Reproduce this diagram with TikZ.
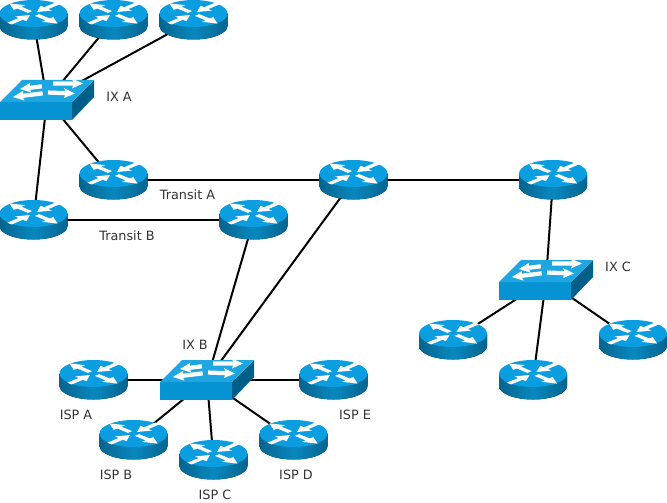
\documentclass[tikz,border=0pt]{standalone}
\usepackage{fontspec}
\setmainfont{DejaVu Sans}
\definecolor{topc}{HTML}{0A9EE0}
\definecolor{frontc}{HTML}{0693D3}
\definecolor{sidec}{HTML}{005F88}
\definecolor{bodya}{HTML}{06648F}
\definecolor{bodyb}{HTML}{0888BE}
\tikzset{
  x=1pt,y=-1pt,
  anchorpt/.style={inner sep=0pt,minimum size=0pt,outer sep=0pt},
  link/.style={draw=black,line width=2pt},
  lbl/.style={font=\fontsize{12.8}{14}\selectfont,text=black!80,inner sep=0pt,anchor=base},
}
\newcommand{\rtarrow}[1]{%
  \begin{scope}[rotate=#1]
    \fill[white] (5,-3) -- (20,-3) -- (20,-8) -- (34,0) -- (20,8) -- (20,3) -- (5,3) -- cycle;
  \end{scope}}
\newcommand{\rtarrowin}[1]{%
  \begin{scope}[rotate=#1]
    \fill[white] (34,-3) -- (18,-3) -- (18,-8) -- (5,0) -- (18,8) -- (18,3) -- (34,3) -- cycle;
  \end{scope}}
\newcommand{\routericon}[1]{%
  \begin{scope}[shift={(#1)},yshift=6.5pt]
    \fill[left color=bodya,right color=bodya,middle color=bodyb] (-34,0) -- (-34,12.5) arc[x radius=34,y radius=13.5,start angle=180,end angle=0] -- (34,0) -- cycle;
    \fill[topc] (0,0) ellipse[x radius=34,y radius=13.5];
    \begin{scope}[yscale=.42]
      \rtarrowin{45}\rtarrowin{225}\rtarrow{135}\rtarrow{315}
    \end{scope}
  \end{scope}}
\newcommand{\swarr}[4]{% tip x, tip y, angle, length
  \begin{scope}[shift={(#1,#2)},rotate=#3]
    \fill[white] (0,0) -- (-11,-5) -- (-10,-2.1) -- (-#4,-2.1) -- (-#4,2.1) -- (-10,2.1) -- (-11,5) -- cycle;
  \end{scope}}
\newcommand{\switchicon}[1]{%
  \begin{scope}[shift={(#1)}]
    \fill[frontc] (-47,2) rectangle (25,20);
    \fill[sidec] (25,2) -- (47,-20) -- (47,-3) -- (25,20) -- cycle;
    \fill[topc!92!white] (-47,2) -- (-25,-20) -- (47,-20) -- (25,2) -- cycle;
    \swarr{-27}{-11}{187}{22}
    \swarr{36}{-16.5}{0}{30}
    \swarr{-34}{-3}{187}{30}
    \swarr{28}{-6.5}{-2}{27}
  \end{scope}}
\begin{document}
\begin{tikzpicture}
\useasboundingbox (0,0) rectangle (667,503);
\node[anchorpt] (t1) at (33.5,20) {};
\node[anchorpt] (t2) at (113.5,20) {};
\node[anchorpt] (t3) at (193.5,20) {};
\node[anchorpt] (ixa) at (47,100) {};
\node[anchorpt] (tra) at (113.5,180) {};
\node[anchorpt] (trb) at (33.5,220) {};
\node[anchorpt] (trb2) at (253.5,220) {};
\node[anchorpt] (mid) at (353.5,180) {};
\node[anchorpt] (rgt) at (553,180) {};
\node[anchorpt] (ixc) at (546,280) {};
\node[anchorpt] (c1) at (453,340) {};
\node[anchorpt] (c2) at (533,380) {};
\node[anchorpt] (c3) at (633,340) {};
\node[anchorpt] (ixb) at (207,380) {};
\node[anchorpt] (ia) at (93.5,380) {};
\node[anchorpt] (ib) at (133.5,440) {};
\node[anchorpt] (ic) at (213.5,460) {};
\node[anchorpt] (id) at (293.5,440) {};
\node[anchorpt] (ie) at (333.5,380) {};
\foreach \a/\b in {t1/ixa,t2/ixa,t3/ixa,ixa/tra,ixa/trb,tra/mid,mid/rgt,trb/trb2,trb2/ixb,mid/ixb,rgt/ixc,ixc/c1,ixc/c2,ixc/c3,ixb/ia,ixb/ib,ixb/ic,ixb/id,ixb/ie}{
  \draw[link] (\a) -- (\b);
}
\foreach \n in {t1,t2,t3,tra,trb,trb2,mid,rgt,c1,c2,c3,ia,ib,ic,id,ie}{\routericon{\n}}
\foreach \n in {ixa,ixb,ixc}{\switchicon{\n}}
\node[lbl] (lixa) at (119,102) {IX A};
\node[lbl] (ltra) at (187.5,199) {Transit A};
\node[lbl] (ltrb) at (127,240) {Transit B};
\node[lbl] (lixb) at (195,349) {IX B};
\node[lbl] (lixc) at (618,271) {IX C};
\node[lbl] (lia) at (76,419) {ISP A};
\node[lbl] (lib) at (116,479) {ISP B};
\node[lbl] (lic) at (215,499) {ISP C};
\node[lbl] (lid) at (296,479) {ISP D};
\node[lbl] (lie) at (355,419) {ISP E};
\end{tikzpicture}
\end{document}
